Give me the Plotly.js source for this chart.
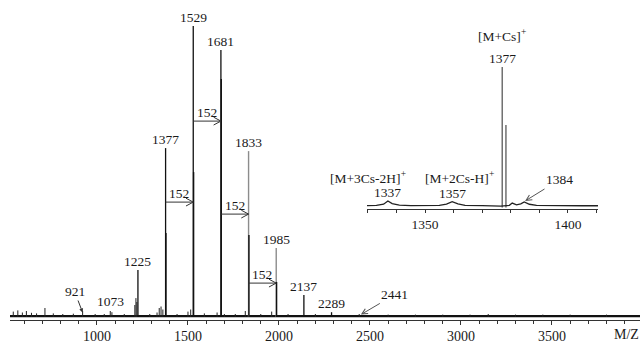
<!DOCTYPE html>
<html>
<head>
<meta charset="utf-8">
<script src="https://cdn.plot.ly/plotly-3.0.1.min.js"></script>
<style>html,body{margin:0;padding:0;background:#fff;}#chart{width:642px;height:344px;}</style>
</head>
<body>
<div id="chart"></div>
<script>
// ---- main spectrum (relative intensity, %) ----
const blackPeakMz  = [1225, 1377, 1529, 1681, 2137, 2289];
const blackPeakInt = [15.7, 56.3, 97.0, 89.0, 7.3, 1.6];
const grayPeakMz   = [1833, 1985];
const grayPeakInt  = [55.3, 23.0];
const isoPeakMz    = [1379, 1531, 1683, 1835, 1987];
const isoPeakInt   = [28.0, 48.3, 79.3, 27.3, 11.7];
const minorMz  = [540, 565, 590, 612, 640, 668, 714, 760, 812, 870, 921, 990, 1040, 1073, 1082, 1150, 1208, 1214, 1219, 1290, 1330, 1342, 1352, 1362, 1440, 1500, 1515, 1590, 1660, 1700, 1760, 1815, 1900, 1960, 2050, 2200, 2441, 2600, 2750, 2900, 3050, 3150, 3300, 3450, 3600, 3800];
const minorInt = [1.8, 2.2, 1.5, 2.0, 1.4, 1.2, 3.0, 1.2, 1.0, 1.1, 2.0, 1.0, 1.0, 2.0, 1.6, 1.0, 4.0, 6.3, 5.0, 1.0, 1.5, 3.0, 3.5, 2.5, 1.0, 1.8, 2.5, 1.2, 1.5, 1.0, 1.0, 2.0, 1.0, 1.8, 1.0, 1.0, 1.0, 0.8, 0.8, 0.8, 0.8, 1.0, 0.8, 0.8, 0.8, 0.8];
const mainTickVals  = [1000, 1500, 2000, 2500, 3000, 3500];
const mainTickText  = ['1000', '1500', '2000', '2500', '3000', '3500'];
const peakLabels    = ['1225', '1377', '1529', '1681', '1833', '1985', '2137', '2289'];
const peakLabelMz   = [1225, 1377, 1529, 1681, 1833, 1985, 2137, 2289];
const peakLabelInt  = [15.7, 56.3, 97.0, 89.0, 55.3, 23.0, 7.3, 1.6];
const diffFrom = [1377, 1529, 1681, 1833];
const diffTo   = [1529, 1681, 1833, 1985];
const diffLevel = [38.3, 65.3, 34.3, 11.3];
const diffText = '152';

// ---- inset (zoom around 1377) ----
const insetProfileMz  = [1329.7, 1333, 1335.5, 1337, 1338.5, 1341, 1345, 1350, 1355, 1357.5, 1359.5, 1361.5, 1364, 1370, 1375, 1376.5, 1379.5, 1380.5, 1382, 1383.5, 1384.7, 1386.5, 1389, 1395, 1400, 1405, 1410.5];
const insetProfileInt = [1.3, 1.4, 2.2, 4.4, 2.6, 1.6, 1.3, 1.2, 1.4, 2.3, 4.0, 2.5, 1.5, 1.3, 1.2, 1.0, 1.5, 3.0, 1.8, 2.5, 3.8, 2.2, 1.4, 1.2, 1.3, 1.2, 1.2];
const insetSpikeMz  = [1377, 1378.3];
const insetSpikeInt = [94.6, 55.6];
const insetTickVals = [1350, 1400];

function sticks(mz, h) {
  const x = [], y = [];
  mz.forEach((m, i) => { x.push(m, m, null); y.push(0, h[i], null); });
  return {x, y};
}

const serif = 'Liberation Serif, Times New Roman, serif';
const traces = [];
traces.push({x: [522, 3984], y: [0.3, 0.3], mode: 'lines', line: {color: '#111', width: 2.2}, xaxis: 'x', yaxis: 'y', hoverinfo: 'skip'});
let s = sticks(minorMz, minorInt);
traces.push({x: s.x, y: s.y, mode: 'lines', line: {color: '#222', width: 1}, xaxis: 'x', yaxis: 'y'});
s = sticks(grayPeakMz, grayPeakInt);
traces.push({x: s.x, y: s.y, mode: 'lines', line: {color: '#8c8c8c', width: 1.4}, xaxis: 'x', yaxis: 'y'});
s = sticks(blackPeakMz, blackPeakInt);
traces.push({x: s.x, y: s.y, mode: 'lines', line: {color: '#111', width: 1.3}, xaxis: 'x', yaxis: 'y'});
s = sticks(isoPeakMz, isoPeakInt);
traces.push({x: s.x, y: s.y, mode: 'lines', line: {color: '#111', width: 1.4}, xaxis: 'x', yaxis: 'y'});
// 152 difference arrows (shaft + open chevron head)
const headDx = 40, headDy = 1.3;
const ax = [], ay = [];
diffFrom.forEach((a, i) => {
  const b = diffTo[i], L = diffLevel[i];
  ax.push(a, b, null, b - headDx, b, b - headDx, null);
  ay.push(L, L, null, L + headDy, L, L - headDy, null);
});
traces.push({x: ax, y: ay, mode: 'lines', line: {color: '#333', width: 1}, xaxis: 'x', yaxis: 'y'});
// inset
s = sticks(insetSpikeMz, insetSpikeInt);
traces.push({x: s.x, y: s.y, mode: 'lines', line: {color: '#666', width: 1.4}, xaxis: 'x2', yaxis: 'y2'});
traces.push({x: insetProfileMz, y: insetProfileInt, mode: 'lines', line: {color: '#222', width: 1.3}, xaxis: 'x2', yaxis: 'y2'});

const ann = [];
const lblFont = {family: serif, size: 13.5, color: '#1a1a1a'};
peakLabels.forEach((t, i) => {
  ann.push({x: peakLabelMz[i], y: peakLabelInt[i], xref: 'x', yref: 'y', text: t, showarrow: false, yanchor: 'bottom', font: lblFont, borderpad: 0});
});
diffFrom.forEach((a, i) => {
  ann.push({x: (a + diffTo[i]) / 2, y: diffLevel[i], xref: 'x', yref: 'y', text: diffText, showarrow: false, yanchor: 'bottom', font: lblFont, borderpad: 0});
});
ann.push({x: 921, y: 1.5, xref: 'x', yref: 'y', text: '921', showarrow: true, ax: -8, ay: -21, arrowhead: 2, arrowsize: 0.8, arrowwidth: 1, arrowcolor: '#333', font: lblFont, standoff: 0});
ann.push({x: 1073, y: 1.8, xref: 'x', yref: 'y', text: '1073', showarrow: false, yanchor: 'bottom', yshift: 1, font: lblFont});
ann.push({x: 2450, y: 0.8, xref: 'x', yref: 'y', text: '2441', showarrow: true, ax: 34, ay: -20, arrowhead: 5, arrowsize: 1.1, arrowwidth: 1, arrowcolor: '#555', font: lblFont, standoff: 0});
ann.push({x: 1, y: 0, xref: 'paper', yref: 'paper', text: 'M/Z', showarrow: false, xanchor: 'right', yanchor: 'top', yshift: -6, font: {family: serif, size: 14, color: '#1a1a1a'}, borderpad: 0});
// inset annotations
ann.push({x: 1377, y: 94.6, xref: 'x2', yref: 'y2', text: '1377', showarrow: false, yanchor: 'bottom', font: lblFont, borderpad: 0});
ann.push({x: 1377, y: 94.6, xref: 'x2', yref: 'y2', text: '[M+Cs]<sup>+</sup>', showarrow: false, yanchor: 'bottom', yshift: 22, font: lblFont, borderpad: 0});
ann.push({x: 1337, y: 4.4, xref: 'x2', yref: 'y2', text: '1337', showarrow: false, yanchor: 'bottom', font: lblFont, borderpad: 0});
ann.push({x: 1359.5, y: 4.0, xref: 'x2', yref: 'y2', text: '1357', showarrow: false, yanchor: 'bottom', font: lblFont, borderpad: 0});
ann.push({x: 1330.1, y: 20.5, xref: 'x2', yref: 'y2', text: '[M+3Cs-2H]<sup>+</sup>', showarrow: false, font: lblFont});
ann.push({x: 1361.9, y: 19.9, xref: 'x2', yref: 'y2', text: '[M+2Cs-H]<sup>+</sup>', showarrow: false, font: lblFont});
ann.push({x: 1385, y: 4.4, xref: 'x2', yref: 'y2', text: '1384', showarrow: true, ax: 34, ay: -21, arrowhead: 5, arrowsize: 1.1, arrowwidth: 1, arrowcolor: '#555', font: lblFont, standoff: 0});

const layout = {
  width: 642, height: 344,
  margin: {l: 10, r: 2, t: 17, b: 24},
  paper_bgcolor: '#fff', plot_bgcolor: 'rgba(0,0,0,0)',
  showlegend: false,
  font: {family: serif, color: '#1a1a1a'},
  xaxis: {range: [522, 3984], domain: [0, 1], showgrid: false, zeroline: false, showline: true, linecolor: '#333', linewidth: 1,
          ticks: 'outside', ticklen: 4, tickcolor: '#333', tickvals: mainTickVals, ticktext: mainTickText,
          tickfont: {family: serif, size: 14, color: '#1a1a1a'}, ticklabelstandoff: -1,
          minor: {tickmode: 'linear', tick0: 0, dtick: 100, ticks: 'outside', ticklen: 3, tickcolor: '#333'}},
  yaxis: {range: [-1, 100], domain: [0, 1], visible: false, showgrid: false, zeroline: false},
  xaxis2: {anchor: 'y2', range: [1329.7, 1410.5], domain: [0.5667, 0.9333], showgrid: false, zeroline: false, showline: true, linecolor: '#333', linewidth: 1,
           ticks: 'outside', ticklen: 3, tickcolor: '#333', tickvals: insetTickVals, tickfont: {family: serif, size: 13.5, color: '#1a1a1a'},
           minor: {tickmode: 'linear', tick0: 0, dtick: 10, ticks: 'outside', ticklen: 3, tickcolor: '#333'}},
  yaxis2: {anchor: 'x2', range: [-1, 100], domain: [0.3663, 0.8614], visible: false, showgrid: false, zeroline: false},
  annotations: ann
};
Plotly.newPlot('chart', traces, layout, {staticPlot: true, displayModeBar: false});
</script>
</body>
</html>
